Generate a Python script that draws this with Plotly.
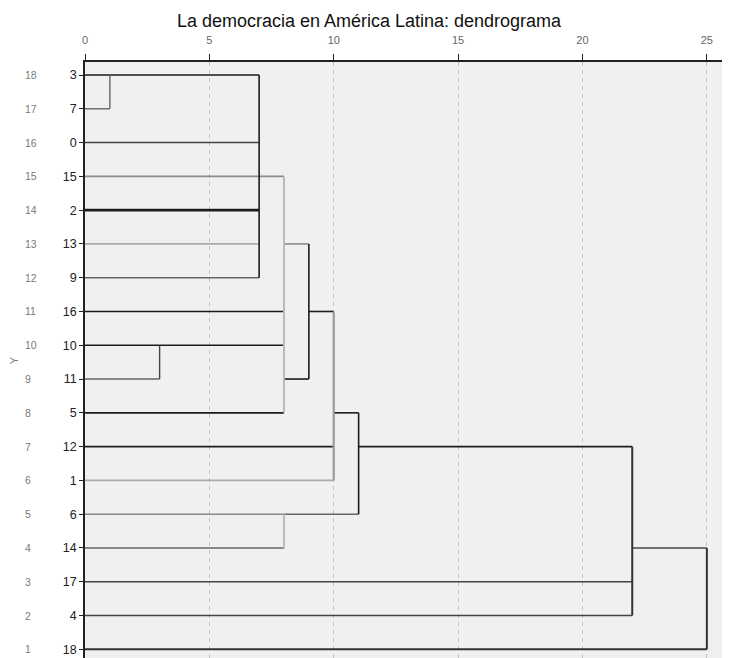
import plotly.graph_objects as go

# leaf labels, top to bottom (row 18 at top, row 1 at bottom)
leaf_labels = ["3", "7", "0", "15", "2", "13", "9", "16", "10", "11",
               "5", "12", "1", "6", "14", "17", "4", "18"]
rows = list(range(18, 0, -1))

# horizontal links: row, from distance, to distance
h_row = [18, 17, 16, 15, 14, 13, 13, 12, 11, 11, 10, 9, 9, 8, 8, 7, 7, 6, 5, 5, 4, 4, 3, 2, 1]
h_from = [0, 0, 0, 0, 0, 0, 8, 0, 0, 9, 0, 0, 8, 0, 10, 0, 11, 0, 0, 8, 0, 22, 0, 0, 0]
h_to = [7, 1, 7, 8, 7, 7, 9, 7, 8, 10, 8, 3, 9, 8, 11, 10, 22, 10, 8, 11, 8, 25, 22, 22, 25]
h_shade = ["k", "m", "d", "g", "K", "t", "g", "m", "k", "k", "k", "m", "k", "k", "k",
           "k", "k", "l", "g", "m", "m", "d", "d", "d", "D"]

# vertical links: distance, from row, to row
v_dist = [1, 7, 3, 8, 9, 10, 11, 8, 22, 25]
v_from = [17, 12, 9, 8, 9, 6, 5, 4, 2, 1]
v_to = [18, 18, 10, 15, 13, 11, 8, 5, 7, 4]
v_shade = ["m", "k", "d", "L", "k", "G", "k", "L", "D", "D"]

styles = {
    "k": ("#1c1c1c", 1.6), "K": ("#1c1c1c", 2.6), "d": ("#444444", 1.4),
    "D": ("#333333", 2.0), "m": ("#666666", 1.4), "g": ("#8a8a8a", 1.6),
    "G": ("#9a9a9a", 2.2), "t": ("#777777", 1.0), "l": ("#aaaaaa", 1.6),
    "L": ("#bbbbbb", 2.0),
}

fig = go.Figure()
for r, a, b, s in zip(h_row, h_from, h_to, h_shade):
    c, w = styles[s]
    fig.add_trace(go.Scatter(x=[a, b], y=[r, r], mode="lines",
                             line=dict(color=c, width=w), hoverinfo="skip"))
for d, a, b, s in zip(v_dist, v_from, v_to, v_shade):
    c, w = styles[s]
    fig.add_trace(go.Scatter(x=[d, d], y=[a, b], mode="lines",
                             line=dict(color=c, width=w), hoverinfo="skip"))

# outer row numbers and axis title
for r in rows:
    fig.add_annotation(x=-0.096, xref="paper", y=r, yref="y", text=str(r),
                       showarrow=False, font=dict(size=10.5, color="#7a7a7a"))
fig.add_annotation(x=-0.122, xref="paper", y=0.5, yref="paper", text="Y",
                   textangle=-90, showarrow=False, font=dict(size=11, color="#7a7a7a"))

# page body has an 8px margin, so the figure is 8px smaller than the window
fig.update_layout(
    width=722, height=650,
    margin=dict(l=77, r=0, t=54, b=0),
    paper_bgcolor="white", plot_bgcolor="#f0f0f0",
    showlegend=False,
    font=dict(family="Liberation Sans, Arial, sans-serif"),
    title=dict(text="La democracia en América Latina: dendrograma",
               x=0.5, xref="container", y=0.98, yref="container", yanchor="middle",
               font=dict(size=18, color="#111111")),
    xaxis=dict(side="top", range=[0, 25.93], tickvals=[0, 5, 10, 15, 20, 25],
               showgrid=True, gridcolor="#c4c4c4", griddash="4px,4px", gridwidth=1,
               showline=True, linecolor="#222222", linewidth=1.5,
               ticks="outside", ticklen=6, tickcolor="#222222", ticklabelstandoff=6,
               tickfont=dict(size=11, color="#666666"), zeroline=False),
    yaxis=dict(range=[0.743, 18.385], tickvals=rows, ticktext=leaf_labels,
               showgrid=False, showline=True, linecolor="#222222", linewidth=1.5,
               ticks="outside", ticklen=4, tickcolor="#222222",
               tickfont=dict(size=12.5, color="#222222"), zeroline=False),
)

fig.write_html("out.html")
